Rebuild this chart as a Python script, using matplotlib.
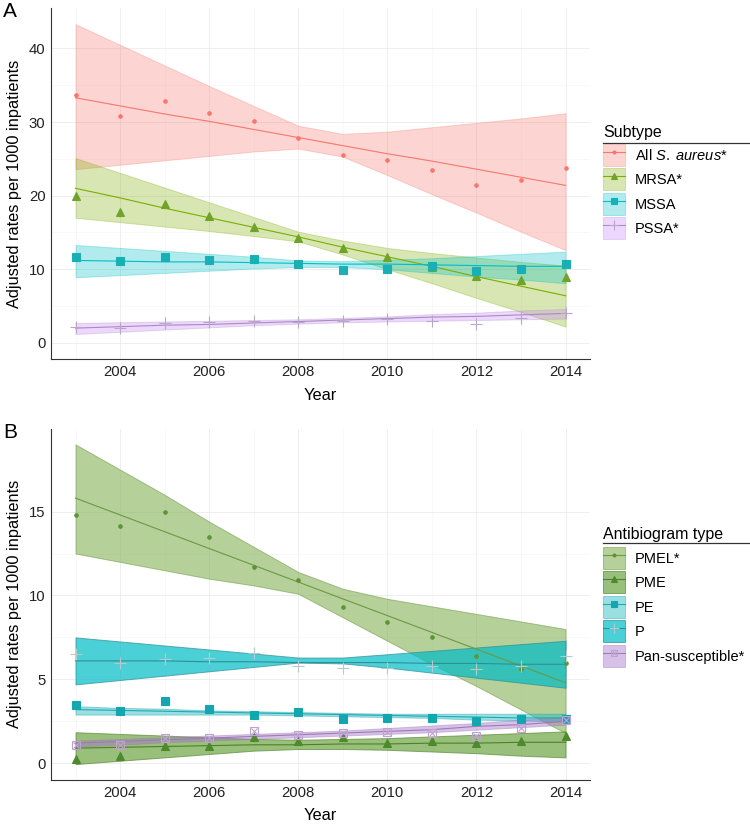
# Adjusted S. aureus rates per 1000 inpatients, by subtype (A) and antibiogram type (B)

import matplotlib
matplotlib.use("Agg")
import matplotlib.pyplot as plt
from matplotlib.patches import Patch
from matplotlib.lines import Line2D

plt.rcParams['font.family'] = ['Liberation Sans', 'DejaVu Sans']
plt.rcParams['mathtext.fontset'] = 'custom'
plt.rcParams['mathtext.rm'] = 'Liberation Sans'
plt.rcParams['mathtext.it'] = 'Liberation Sans:italic'

years = [2003, 2004, 2005, 2006, 2007, 2008, 2009, 2010, 2011, 2012, 2013, 2014]

# Panel A - subtype
subtype_names = [r'All $\mathit{S.}$ $\mathit{aureus}$*', 'MRSA*', 'MSSA', 'PSSA*']

all_obs = [33.7, 30.8, 32.9, 31.2, 30.1, 27.8, 25.5, 24.8, 23.5, 21.5, 22.1, 23.7]
all_fit = [33.3, 32.2, 31.1, 30.1, 29.0, 27.9, 26.8, 25.7, 24.7, 23.6, 22.5, 21.4]
all_hi = [43.3, 40.5, 37.7, 34.9, 32.2, 29.5, 28.4, 28.7, 29.3, 29.9, 30.5, 31.2]
all_lo = [23.6, 24.2, 24.8, 25.4, 26.0, 26.4, 25.3, 22.8, 20.2, 17.7, 15.1, 12.6]

mrsa_obs = [19.9, 17.8, 18.8, 17.2, 15.8, 14.2, 12.9, 11.6, 10.3, 9.1, 8.6, 9.0]
mrsa_fit = [21.0, 19.7, 18.3, 17.0, 15.7, 14.4, 13.0, 11.7, 10.4, 9.0, 7.7, 6.4]
mrsa_hi = [25.1, 23.1, 21.1, 19.1, 17.1, 15.1, 13.9, 12.9, 12.2, 11.6, 11.0, 10.5]
mrsa_lo = [17.0, 16.4, 15.8, 15.2, 14.5, 13.8, 12.0, 10.0, 8.1, 6.1, 4.2, 2.2]

mssa_obs = [11.7, 11.1, 11.6, 11.3, 11.4, 10.7, 9.9, 10.1, 10.4, 9.7, 10.0, 10.7]
mssa_fit = [11.2, 11.1, 11.0, 11.0, 10.9, 10.8, 10.7, 10.7, 10.6, 10.5, 10.4, 10.4]
mssa_hi = [13.3, 12.9, 12.5, 12.1, 11.7, 11.2, 11.1, 11.3, 11.5, 11.8, 12.1, 12.4]
mssa_lo = [8.9, 9.2, 9.5, 9.8, 10.1, 10.3, 10.3, 10.0, 9.5, 9.0, 8.6, 8.1]

pssa_obs = [2.1, 2.0, 2.7, 2.9, 3.0, 2.8, 3.0, 3.3, 3.0, 2.6, 3.4, 4.1]
pssa_fit = [2.0, 2.2, 2.4, 2.5, 2.7, 2.9, 3.1, 3.3, 3.5, 3.6, 3.8, 4.0]
pssa_hi = [2.7, 2.8, 2.9, 3.0, 3.1, 3.2, 3.4, 3.6, 3.9, 4.1, 4.4, 4.6]
pssa_lo = [1.2, 1.5, 1.8, 2.1, 2.4, 2.6, 2.8, 2.9, 3.0, 3.1, 3.2, 3.3]

# Panel B - antibiogram type
antibiogram_names = ['PMEL*', 'PME', 'PE', 'P', 'Pan-susceptible*']

pmel_obs = [14.8, 14.15, 15.0, 13.5, 11.7, 10.9, 9.3, 8.4, 7.5, 6.4, 5.6, 6.0]
pmel_fit = [15.8, 14.8, 13.8, 12.8, 11.8, 10.8, 9.8, 8.8, 7.8, 6.8, 5.8, 4.8]
pmel_hi = [19.0, 17.5, 16.0, 14.4, 12.9, 11.4, 10.4, 9.8, 9.35, 8.9, 8.45, 8.0]
pmel_lo = [12.5, 12.0, 11.5, 11.0, 10.6, 10.1, 8.7, 7.3, 5.9, 4.6, 3.2, 1.8]

pme_obs = [0.25, 0.45, 1.05, 1.0, 1.55, 1.3, 1.55, 1.2, 1.3, 1.2, 1.3, 1.6]
pme_fit = [0.9, 0.95, 1.0, 1.05, 1.1, 1.1, 1.15, 1.15, 1.2, 1.2, 1.25, 1.25]
pme_hi = [1.85, 1.75, 1.65, 1.55, 1.45, 1.4, 1.45, 1.5, 1.6, 1.7, 1.8, 1.9]
pme_lo = [-0.05, 0.15, 0.35, 0.55, 0.75, 0.85, 0.85, 0.8, 0.7, 0.6, 0.45, 0.35]

pe_obs = [3.5, 3.1, 3.7, 3.25, 2.9, 3.05, 2.65, 2.7, 2.7, 2.5, 2.65, 2.65]
pe_fit = [3.2, 3.15, 3.1, 3.05, 3.0, 2.95, 2.9, 2.85, 2.8, 2.75, 2.7, 2.7]
pe_hi = [3.4, 3.3, 3.25, 3.15, 3.1, 3.05, 3.0, 2.95, 2.95, 2.95, 2.95, 2.95]
pe_lo = [2.9, 2.9, 2.9, 2.9, 2.9, 2.85, 2.8, 2.75, 2.7, 2.6, 2.55, 2.5]

p_obs = [6.5, 6.0, 6.2, 6.3, 6.6, 5.8, 5.7, 5.7, 5.8, 5.6, 5.8, 6.4]
p_fit = [6.1, 6.1, 6.1, 6.05, 6.05, 6.0, 6.0, 6.0, 5.95, 5.95, 5.9, 5.9]
p_hi = [7.5, 7.26, 7.02, 6.78, 6.54, 6.3, 6.3, 6.5, 6.7, 6.9, 7.1, 7.3]
p_lo = [4.7, 4.96, 5.22, 5.48, 5.74, 6.0, 5.95, 5.7, 5.4, 5.1, 4.8, 4.5]

pan_obs = [1.1, 1.1, 1.5, 1.5, 1.9, 1.7, 1.8, 1.85, 1.8, 1.6, 2.1, 2.6]
pan_fit = [1.2, 1.3, 1.4, 1.5, 1.6, 1.7, 1.8, 1.9, 2.0, 2.2, 2.3, 2.5]
pan_hi = [1.35, 1.45, 1.55, 1.65, 1.75, 1.85, 1.95, 2.1, 2.25, 2.4, 2.6, 2.75]
pan_lo = [1.0, 1.1, 1.25, 1.35, 1.45, 1.55, 1.65, 1.75, 1.85, 2.0, 2.15, 2.3]


def draw_group(ax, obs, fit, lo, hi, color, fill, alpha, marker, msize, mcolor):
    # Confidence ribbon, fitted trend and observed points for one group
    ax.fill_between(years, lo, hi, facecolor=fill, alpha=alpha, edgecolor=color, linewidth=0.7, zorder=2)
    ax.plot(years, fit, color=color, linewidth=0.8, zorder=3)
    if marker == 'boxx':
        ax.plot(years, obs, linestyle='none', marker='s', markersize=msize, markerfacecolor='none',
                markeredgecolor=mcolor, markeredgewidth=0.8, zorder=4)
        ax.plot(years, obs, linestyle='none', marker='x', markersize=msize * 0.7,
                markeredgecolor=mcolor, markeredgewidth=0.8, zorder=4)
    else:
        ax.plot(years, obs, linestyle='none', marker=marker, markersize=msize, color=mcolor,
                markeredgewidth=0.8, zorder=4)


def legend_handle(color, fill, alpha, marker, msize, mcolor):
    box = Patch(facecolor=fill, alpha=alpha, edgecolor=color, linewidth=0.7)
    line = Line2D([], [], color=color, linewidth=0.8)
    if marker == 'boxx':
        m1 = Line2D([], [], linestyle='none', marker='s', markersize=msize * 0.9, markerfacecolor='none',
                    markeredgecolor=mcolor, markeredgewidth=0.8)
        m2 = Line2D([], [], linestyle='none', marker='x', markersize=msize * 0.6,
                    markeredgecolor=mcolor, markeredgewidth=0.8)
        return (box, line, m1, m2)
    m = Line2D([], [], linestyle='none', marker=marker, markersize=msize, color=mcolor, markeredgewidth=0.8)
    return (box, line, m)


def style_axes(ax, yticks, ylim):
    ax.set_xlim(2002.45, 2014.55)
    ax.set_ylim(*ylim)
    ax.set_xticks([2004, 2006, 2008, 2010, 2012, 2014])
    ax.set_xticks([2003, 2005, 2007, 2009, 2011, 2013], minor=True)
    ax.set_yticks(yticks)
    ax.set_yticks([(a + b) / 2 for a, b in zip(yticks[:-1], yticks[1:])], minor=True)
    ax.grid(True, which='major', color='#ebebeb', linewidth=0.6)
    ax.grid(True, which='minor', color='#f5f5f5', linewidth=0.5)
    ax.set_axisbelow(True)
    for side in ['top', 'right']:
        ax.spines[side].set_visible(False)
    ax.spines['left'].set_color('#333333')
    ax.spines['bottom'].set_color('#333333')
    ax.tick_params(which='both', length=0, labelsize=10.7, colors='#222222', pad=4)
    ax.set_xlabel('Year', fontsize=11.8, labelpad=7)
    ax.set_ylabel('Adjusted rates per 1000 inpatients', fontsize=11.8, labelpad=5)


fig = plt.figure(figsize=(7.5, 8.25), dpi=100)
ax_a = fig.add_axes([0.068, 0.5648, 0.7187, 0.4255])
ax_b = fig.add_axes([0.068, 0.0545, 0.7187, 0.4261])

# Panel A
groups_a = [
    (all_obs, all_fit, all_lo, all_hi, '#F8766D', '#F8766D', 0.3, 'o', 2.5, '#F8766D'),
    (mrsa_obs, mrsa_fit, mrsa_lo, mrsa_hi, '#7CAE00', '#7CAE00', 0.3, '^', 5.8, '#6FA32A'),
    (mssa_obs, mssa_fit, mssa_lo, mssa_hi, '#00BFC4', '#00BFC4', 0.3, 's', 5.3, '#1AAFB5'),
    (pssa_obs, pssa_fit, pssa_lo, pssa_hi, '#A88BC0', '#C77CFF', 0.3, '+', 9, '#B9A6C8'),
]
for g in groups_a:
    draw_group(ax_a, *g)
style_axes(ax_a, [0, 10, 20, 30, 40], (-2.2, 45.5))

# Panel B
groups_b = [
    (pmel_obs, pmel_fit, pmel_lo, pmel_hi, '#6A9A42', '#7AAB48', 0.55, 'o', 2.5, '#5C9436'),
    (pme_obs, pme_fit, pme_lo, pme_hi, '#4E7F2A', '#5A9A2A', 0.62, '^', 5.8, '#4D8A2C'),
    (pe_obs, pe_fit, pe_lo, pe_hi, '#1FA9B2', '#1FB8C0', 0.45, 's', 5.3, '#12A7AF'),
    (p_obs, p_fit, p_lo, p_hi, '#2D8F96', '#00BCC6', 0.7, '+', 9, '#B6C9CB'),
    (pan_obs, pan_fit, pan_lo, pan_hi, '#9D7BB5', '#A46CCC', 0.42, 'boxx', 5.5, '#BFA2D3'),
]
for g in groups_b:
    draw_group(ax_b, *g)
style_axes(ax_b, [0, 5, 10, 15], (-1.0, 19.95))
ax_b.xaxis.labelpad = 6

# Panel letters
fig.text(0.004, 0.998, 'A', fontsize=15, va='top', ha='left')
fig.text(0.004, 0.487, 'B', fontsize=15, va='top', ha='left')

# Legends: titles drawn separately, with a rule under each title
legend_opts = dict(loc='upper left', frameon=False, fontsize=10.5, handlelength=1.51, handleheight=1.944,
                   labelspacing=0.17, handletextpad=0.69, borderaxespad=0, borderpad=0)

handles_a = [legend_handle(g[4], g[5], g[6], g[7], g[8] * 0.85, g[9]) for g in groups_a]
fig.legend(handles_a, subtype_names, bbox_to_anchor=(0.804, 1 - 144 / 825), **legend_opts)
fig.text(0.804, 1 - 133 / 825, 'Subtype', fontsize=11.5, va='center', ha='left')
fig.add_artist(Line2D([0.804, 1.0], [1 - 143 / 825, 1 - 143 / 825], color='#333333', linewidth=0.9))

handles_b = [legend_handle(g[4], g[5], g[6], g[7], g[8] * 0.85, g[9]) for g in groups_b]
fig.legend(handles_b, antibiogram_names, bbox_to_anchor=(0.804, 1 - 547 / 825), **legend_opts)
fig.text(0.804, 1 - 534 / 825, 'Antibiogram type', fontsize=11.5, va='center', ha='left')
fig.add_artist(Line2D([0.804, 1.0], [1 - 543 / 825, 1 - 543 / 825], color='#333333', linewidth=0.9))

fig.savefig('out.png', dpi=100)
